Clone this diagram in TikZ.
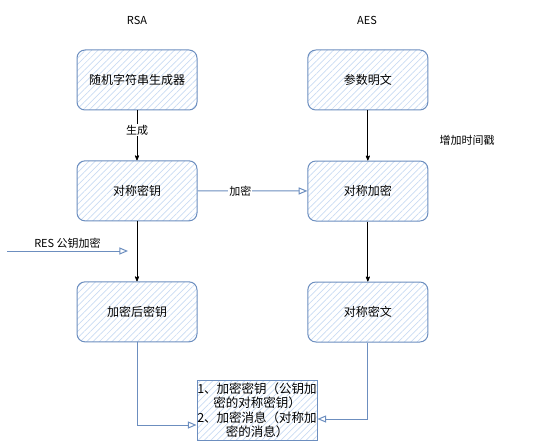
\documentclass[tikz,border=0pt]{standalone}
\usepackage{fontspec}
\setmainfont{Noto Sans CJK SC}
\usetikzlibrary{arrows, positioning, patterns.meta}
\definecolor{boxline}{HTML}{6C8EBF}
\definecolor{boxhatch}{HTML}{C9DBF3}

\begin{document}
\begin{tikzpicture}[x=1pt,y=-1pt,>=stealth',
  box/.style={draw=boxline, line width=1pt, rounded corners=8pt,
    minimum width=120pt, minimum height=60pt, inner sep=0pt,
    pattern={Lines[angle=45,distance=4.5pt,line width=0.7pt]},
    pattern color=boxhatch, font=\fontsize{12}{14}\selectfont},
  flow/.style={draw=boxline, line width=1pt, -open triangle 45},
  lbl/.style={fill=white, inner sep=1pt, font=\fontsize{11}{13}\selectfont}]

\useasboundingbox (0,0) rectangle (538,441);

% define the boxes
  \node[box]   (rng)                        at (137,80) {随机字符串生成器};
  \node[box]   (key)    [below=50pt of rng]  {对称密钥};
  \node[box]   (ekey)   [below=60pt of key]  {加密后密钥};
  \node[box]   (plain)  [right=110pt of rng] {参数明文};
  \node[box]   (sym)    [below=50pt of plain] {对称加密};
  \node[box]   (cipher) [below=60pt of sym]  {对称密文};
  \node[box, rounded corners=0pt, align=center, font=\fontsize{12.5}{14.5}\selectfont] (out) at (257,410)
{1、加密密钥（公钥加\\密的对称密钥）\\2、加密消息（对称加\\密的消息）};

% titles and notes
  \node[lbl] (rsa)   at (137,20)  {RSA};
  \node[lbl] (aes)   at (367,20)  {AES};
  \node[lbl] (stamp) at (467,140) {增加时间戳};
  \coordinate (rs) at (7,251);
  \coordinate (re) at (128,251);

% define the links
  \path[->, line width=0.8pt] (rng) edge node[lbl, pos=0.4] {生成} (key)
        (key) edge (ekey)
        (plain) edge (sym)
        (sym) edge (cipher);
  \draw[flow] (key) -- node[lbl, pos=0.39] {加密} (sym);
  \draw[flow] (rs) -- node[lbl, above=1pt] {RES 公钥加密} (re);
  \draw[flow] (ekey.south) |- ([yshift=-15pt]out.west);
  \draw[flow] (cipher.south) |- ([yshift=-9pt]out.east);

\end{tikzpicture}
\end{document}
